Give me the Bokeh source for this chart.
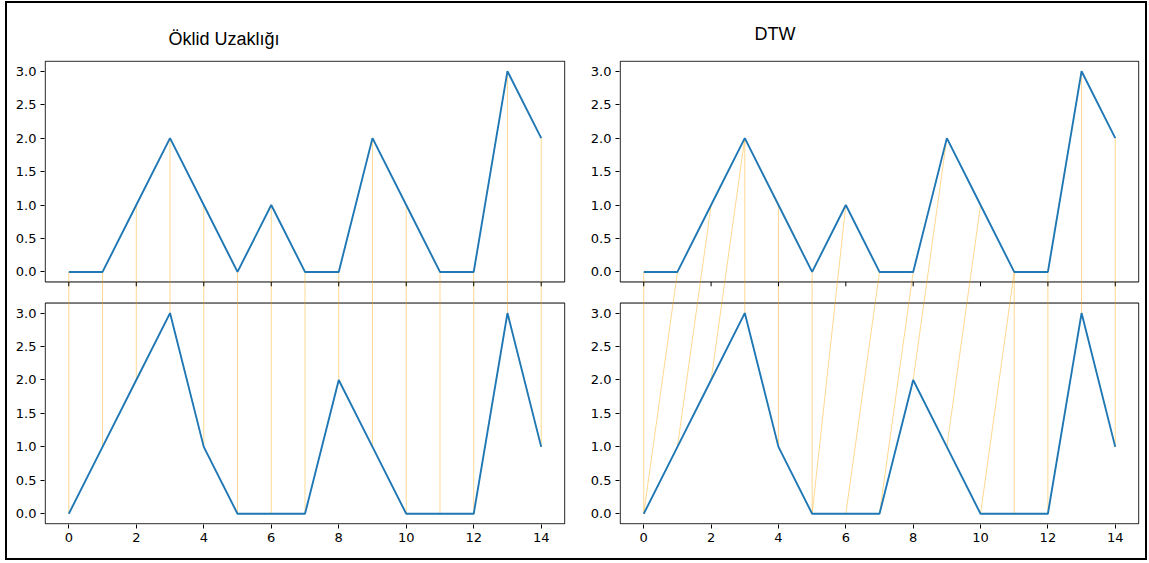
from bokeh.plotting import figure
from bokeh.models import Range1d, FixedTicker, CustomJSTickFormatter, InlineStyleSheet
from bokeh.layouts import row
from bokeh.embed import file_html
from bokeh.resources import INLINE

# Two sequences compared point by point
idx = list(range(15))
series_a = [0, 0, 1, 2, 1, 0, 1, 0, 0, 2, 1, 0, 0, 3, 2]
series_b = [0, 1, 2, 3, 1, 0, 0, 0, 2, 1, 0, 0, 0, 3, 1]

# Euclidean matching: i <-> i
euclid_a = list(range(15))
euclid_b = list(range(15))

# DTW warping path (index in series_a, index in series_b)
dtw_a = [0, 1, 2, 3, 3, 4, 5, 6, 7, 8, 9, 10, 11, 11, 12, 13, 14]
dtw_b = [0, 0, 1, 2, 3, 4, 5, 5, 6, 7, 8, 9, 10, 11, 12, 13, 14]

x_ticks = [0, 2, 4, 6, 8, 10, 12, 14]
y_ticks = [0.0, 0.5, 1.0, 1.5, 2.0, 2.5, 3.0]
titles = ["Öklid Uzaklığı", "DTW"]

# panel limits and stacking
X_LO, X_HI = -0.7, 14.7
Y_LO, Y_HI = -0.15, 3.15
GAP = 0.315
OFFSET = (Y_HI - Y_LO) + GAP      # upper panel is drawn shifted up by this much
XPAD, YPAD = 0.02, 0.01
TICK = 0.065

BLUE = "#1f77b4"
LINK = "#FFA500"


def make_panel(title, pa, pb, width, b_left, b_right, t_offset, t_standoff):
    p = figure(width=width, height=555, output_backend="svg", toolbar_location=None,
               x_range=Range1d(X_LO - XPAD, X_HI + XPAD),
               y_range=Range1d(Y_LO - YPAD, Y_HI + OFFSET + YPAD),
               min_border_left=b_left, min_border_right=b_right,
               min_border_top=57, min_border_bottom=34)
    p.outline_line_color = None
    p.grid.visible = False
    p.background_fill_color = "white"
    p.border_fill_color = "white"

    # the two panel boxes
    p.quad(left=[X_LO, X_LO], right=[X_HI, X_HI],
           bottom=[Y_LO, Y_LO + OFFSET], top=[Y_HI, Y_HI + OFFSET],
           fill_color=None, line_color="black", line_width=1)

    # matching links from the upper sequence to the lower one
    p.segment(x0=pa, y0=[series_a[i] + OFFSET for i in pa],
              x1=pb, y1=[series_b[j] for j in pb],
              line_color=LINK, line_alpha=0.55, line_width=0.8)

    p.line(idx, [v + OFFSET for v in series_a], line_color=BLUE, line_width=1.9)
    p.line(idx, series_b, line_color=BLUE, line_width=1.9)

    # x tick marks under the upper panel
    p.segment(x0=x_ticks, y0=[Y_LO + OFFSET] * len(x_ticks),
              x1=x_ticks, y1=[Y_LO + OFFSET - TICK] * len(x_ticks),
              line_color="black", line_width=1)

    p.xaxis.ticker = FixedTicker(ticks=x_ticks)
    p.yaxis.ticker = FixedTicker(ticks=y_ticks + [t + OFFSET for t in y_ticks])
    p.yaxis.formatter = CustomJSTickFormatter(
        args=dict(off=OFFSET),
        code="const v = tick > off - 0.5 ? tick - off : tick; return v.toFixed(1);")
    for ax in (p.xaxis, p.yaxis):
        ax.axis_line_color = None
        ax.major_tick_out = 4
        ax.major_tick_in = 0
        ax.major_tick_line_color = "black"
        ax.minor_tick_line_color = None
        ax.major_label_standoff = 4
        ax.major_label_text_font = "DejaVu Sans"
        ax.major_label_text_font_size = "13px"
        ax.major_label_text_color = "#000000"

    p.title.text = title
    p.title.align = "left"
    p.title.offset = t_offset
    p.title.standoff = t_standoff
    p.title.text_font = "Liberation Sans"
    p.title.text_font_size = "18px"
    p.title.text_font_style = "normal"
    p.title.text_color = "black"
    return p


left = make_panel(titles[0], euclid_a, euclid_b, 580, 37, 22, 124, 24)
right = make_panel(titles[1], dtw_a, dtw_b, 558, 32, 6, 135, 33)

frame_css = InlineStyleSheet(css=":host { border: 2px solid #000; }")
layout = row(left, right, margin=(1, 0, 0, 5), stylesheets=[frame_css])

open("out.html", "w").write(file_html(layout, INLINE))
